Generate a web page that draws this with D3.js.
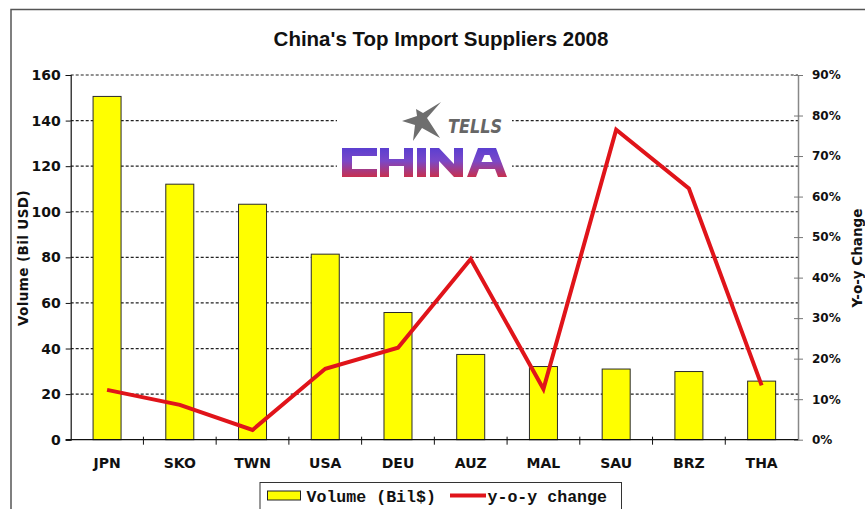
<!DOCTYPE html>
<html>
<head>
<meta charset="utf-8">
<script src="https://cdn.jsdelivr.net/npm/d3@7"></script>
<style>
  html, body { margin: 0; padding: 0; background: #fff; }
  svg { display: block; }
</style>
</head>
<body>
<svg id="chart" width="865" height="509"></svg>
<script>
// China's top import suppliers, 2008
const categories = ["JPN", "SKO", "TWN", "USA", "DEU", "AUZ", "MAL", "SAU", "BRZ", "THA"];
const volume = [150.6, 112.1, 103.3, 81.4, 55.8, 37.4, 32.1, 31.0, 29.9, 25.7];      // billion USD
const yoyChange = [0.123, 0.086, 0.024, 0.175, 0.227, 0.446, 0.125, 0.765, 0.620, 0.134]; // share
const volumeTicks = [0, 20, 40, 60, 80, 100, 120, 140, 160];
const changeTicks = [0, 0.1, 0.2, 0.3, 0.4, 0.5, 0.6, 0.7, 0.8, 0.9];

const svg = d3.select("#chart");
const plot = { left: 70.7, right: 798, top: 75, bottom: 439.7 };
const tickFont = "'DejaVu Sans', Verdana, sans-serif";

// outer frame
svg.append("rect")
  .attr("x", 11).attr("y", 9.5).attr("width", 880).attr("height", 520)
  .attr("fill", "#fff").attr("stroke", "#555").attr("stroke-width", 1.5);

// title
svg.append("text")
  .attr("x", 441).attr("y", 46)
  .attr("text-anchor", "middle")
  .attr("font-family", "'Liberation Sans', Arial, sans-serif")
  .attr("font-weight", "bold").attr("font-size", 20.5)
  .attr("fill", "#111")
  .text("China's Top Import Suppliers 2008");

// scales
const x = d3.scaleBand()
  .domain(categories)
  .range([plot.left, plot.right])
  .paddingInner(0.615).paddingOuter(0.3075);
const slot = d3.scaleLinear().domain([0, categories.length]).range([plot.left, plot.right]);
const yVol = d3.scaleLinear().domain([0, 160]).range([plot.bottom, plot.top]);
const yChg = d3.scaleLinear().domain([0, 0.9]).range([plot.bottom, plot.top]);

// dotted gridlines on the volume scale
svg.append("g")
  .selectAll("line")
  .data(volumeTicks.filter(d => d > 0))
  .join("line")
  .attr("x1", plot.left).attr("x2", plot.right)
  .attr("y1", d => yVol(d)).attr("y2", d => yVol(d))
  .attr("stroke", "#222").attr("stroke-width", 1.2)
  .attr("stroke-dasharray", "3,2");

// logo (white backing interrupts the gridlines)
const logo = svg.append("g");
const defs = svg.append("defs");
const grad = defs.append("linearGradient")
  .attr("id", "logoGrad").attr("x1", 0).attr("y1", 0).attr("x2", 0).attr("y2", 1);
grad.append("stop").attr("offset", "0%").attr("stop-color", "#5b3fd0");
grad.append("stop").attr("offset", "45%").attr("stop-color", "#7a48c8");
grad.append("stop").attr("offset", "100%").attr("stop-color", "#c8304e");

logo.append("rect")
  .attr("x", 337).attr("y", 86).attr("width", 175).attr("height", 106)
  .attr("fill", "#fff");
// shooting star
logo.append("path")
  .attr("d", "M441,102 L427,118 L440,138 L422,128 L413,141 L415,125 L402,121 L417,116 L416,109 L423,113 Z")
  .attr("fill", "#6e6e6e");
logo.append("text")
  .attr("x", 448).attr("y", 133)
  .attr("font-family", "'DejaVu Sans', sans-serif")
  .attr("font-weight", "bold").attr("font-style", "italic")
  .attr("font-size", 20)
  .attr("textLength", 54).attr("lengthAdjust", "spacingAndGlyphs")
  .attr("fill", "#666")
  .text("TELLS");
// block lettering
logo.append("path")
  .attr("transform", "translate(342,148)")
  .attr("fill", "url(#logoGrad)")
  .attr("fill-rule", "evenodd")
  .attr("d", [
    "M0,0 H35 V8 H10 V21 H35 V29 H0 Z",
    "M38,0 H47 V11 H62 V0 H71 V29 H62 V18 H47 V29 H38 Z",
    "M75,0 H84 V29 H75 Z",
    "M88,0 H97 L112,16 V0 H121 V29 H112 L97,13 V29 H88 Z",
    "M125,29 L136,0 H154 L165,29 H156 L153,21 H137 L134,29 Z M139.5,14 H150.5 L147.5,7 H142.5 Z"
  ].join(" "));

// bars
svg.append("g")
  .selectAll("rect")
  .data(categories)
  .join("rect")
  .attr("x", d => x(d))
  .attr("width", x.bandwidth())
  .attr("y", (d, i) => yVol(volume[i]))
  .attr("height", (d, i) => yVol(0) - yVol(volume[i]))
  .attr("fill", "#ffff00")
  .attr("stroke", "#2a2a2a").attr("stroke-width", 1);

// left axis
const leftAxis = svg.append("g")
  .attr("transform", `translate(${plot.left},0)`)
  .call(d3.axisLeft(yVol).tickValues(volumeTicks).tickSize(5).tickPadding(5).tickFormat(d3.format("d")));
leftAxis.select(".domain").attr("stroke", "#111").attr("stroke-width", 1.2);
leftAxis.selectAll(".tick line").attr("stroke", "#111");
leftAxis.selectAll("text")
  .attr("font-family", tickFont).attr("font-weight", "bold")
  .attr("font-size", 14).attr("fill", "#111");

// right axis
const rightAxis = svg.append("g")
  .attr("transform", `translate(${plot.right},0)`)
  .call(d3.axisRight(yChg).tickValues(changeTicks).tickSizeInner(5).tickSizeOuter(0).tickPadding(9)
    .tickFormat(d3.format(".0%")));
rightAxis.select(".domain").attr("stroke", "#888").attr("stroke-width", 1.5);
rightAxis.selectAll(".tick line").attr("stroke", "#777").attr("x1", -4).attr("x2", 5);
rightAxis.selectAll("text")
  .attr("font-family", tickFont).attr("font-weight", "bold")
  .attr("font-size", 12).attr("fill", "#111");

// category axis
svg.append("line")
  .attr("x1", plot.left - 5).attr("x2", plot.right)
  .attr("y1", plot.bottom).attr("y2", plot.bottom)
  .attr("stroke", "#111").attr("stroke-width", 1.2);
svg.append("g")
  .selectAll("line")
  .data(d3.range(1, categories.length))
  .join("line")
  .attr("x1", d => slot(d)).attr("x2", d => slot(d))
  .attr("y1", plot.bottom - 3).attr("y2", plot.bottom + 5)
  .attr("stroke", "#111").attr("stroke-width", 1);
svg.append("g")
  .selectAll("text")
  .data(categories)
  .join("text")
  .attr("x", d => x(d) + x.bandwidth() / 2)
  .attr("y", 468)
  .attr("text-anchor", "middle")
  .attr("font-family", tickFont).attr("font-weight", "bold")
  .attr("font-size", 14).attr("fill", "#111")
  .text(d => d);

// y-o-y change line
const line = d3.line()
  .x((d, i) => x(categories[i]) + x.bandwidth() / 2)
  .y(d => yChg(d));
svg.append("path")
  .datum(yoyChange)
  .attr("d", line)
  .attr("fill", "none")
  .attr("stroke", "#e0141a").attr("stroke-width", 4)
  .attr("stroke-linejoin", "miter");

// axis titles
svg.append("text")
  .attr("transform", "translate(28,258) rotate(-90)")
  .attr("text-anchor", "middle")
  .attr("font-family", tickFont).attr("font-weight", "bold")
  .attr("font-size", 13.5).attr("letter-spacing", 0.4).attr("fill", "#111")
  .text("Volume (Bil USD)");
svg.append("text")
  .attr("transform", "translate(862,258) rotate(-90)")
  .attr("text-anchor", "middle")
  .attr("font-family", tickFont).attr("font-weight", "bold")
  .attr("font-size", 13.5).attr("fill", "#111")
  .text("Y-o-y Change");

// legend
const legend = svg.append("g");
legend.append("rect")
  .attr("x", 260).attr("y", 482.5).attr("width", 361.5).attr("height", 40)
  .attr("fill", "#fff").attr("stroke", "#333").attr("stroke-width", 1);
legend.append("rect")
  .attr("x", 267.5).attr("y", 491).attr("width", 33).attr("height", 9)
  .attr("fill", "#ffff00").attr("stroke", "#222").attr("stroke-width", 1);
legend.append("text")
  .attr("x", 306.5).attr("y", 501.5)
  .attr("font-family", "'Liberation Mono', 'Courier New', monospace")
  .attr("font-weight", "bold").attr("font-size", 16.6).attr("fill", "#111")
  .text("Volume (Bil$)");
legend.append("line")
  .attr("x1", 450).attr("x2", 486).attr("y1", 495.5).attr("y2", 495.5)
  .attr("stroke", "#e0141a").attr("stroke-width", 4);
legend.append("text")
  .attr("x", 487.5).attr("y", 501.5)
  .attr("font-family", "'Liberation Mono', 'Courier New', monospace")
  .attr("font-weight", "bold").attr("font-size", 16.6).attr("fill", "#111")
  .text("y-o-y change");
</script>
</body>
</html>
